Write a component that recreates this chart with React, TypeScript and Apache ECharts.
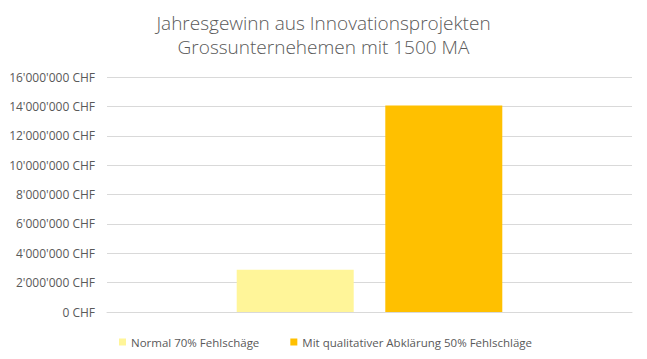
import React, { useEffect, useRef } from "react";
import * as echarts from "echarts";

const categories = ["Jahresgewinn"];
const seriesNames = ["Normal 70% Fehlschäge", "Mit qualitativer Abklärung 50% Fehlschläge"];
const normalValues = [2880000];
const qualitativValues = [14060000];
const yTicks = { min: 0, max: 16000000, interval: 2000000 };

function fmt(v: number): string {
  const s = Math.round(v).toString();
  return s.replace(/\B(?=(\d{3})+(?!\d))/g, "'") + " CHF";
}

export default function App() {
  const ref = useRef<HTMLDivElement>(null);
  useEffect(() => {
    if (!ref.current) return;
    const chart = echarts.init(ref.current, undefined, { renderer: "svg" });
    const font = "'Open Sans', 'Noto Sans', sans-serif";
    chart.setOption({
      animation: false,
      title: {
        text: "Jahresgewinn aus Innovationsprojekten\nGrossunternehemen mit 1500 MA",
        left: "center",
        top: 6,
        textStyle: {
          fontFamily: font,
          fontSize: 19,
          fontWeight: 300,
          color: "#595959",
          lineHeight: 24,
        },
      },
      legend: {
        top: 331,
        left: 114,
        itemWidth: 7,
        itemHeight: 7,
        itemGap: 31,
        icon: "rect",
        textStyle: { fontFamily: font, fontSize: 11.5, color: "#595959" },
        data: seriesNames,
      },
      grid: { left: 107, right: 15, top: 77, bottom: 47, containLabel: false },
      xAxis: {
        type: "category",
        data: categories,
        axisLine: { show: true, lineStyle: { color: "#d9d9d9" } },
        axisTick: { show: false },
        axisLabel: { show: false },
      },
      yAxis: {
        type: "value",
        min: yTicks.min,
        max: yTicks.max,
        interval: yTicks.interval,
        axisLine: { show: false },
        axisTick: { show: false },
        splitLine: { lineStyle: { color: "#d9d9d9" } },
        axisLabel: {
          formatter: (v: number) => fmt(v),
          fontFamily: font,
          fontSize: 12,
          color: "#595959",
          margin: 12,
        },
      },
      series: [
        {
          name: seriesNames[0],
          type: "bar",
          data: normalValues,
          barWidth: 117,
          barGap: "27%",
          itemStyle: { color: "#FFF599" },
        },
        {
          name: seriesNames[1],
          type: "bar",
          data: qualitativValues,
          barWidth: 117,
          barGap: "27%",
          itemStyle: { color: "#FFC000" },
        },
      ],
    });
    return () => chart.dispose();
  }, []);
  return <div ref={ref} style={{ width: 647, height: 359, position: "absolute", left: 0, top: 0 }} />;
}
